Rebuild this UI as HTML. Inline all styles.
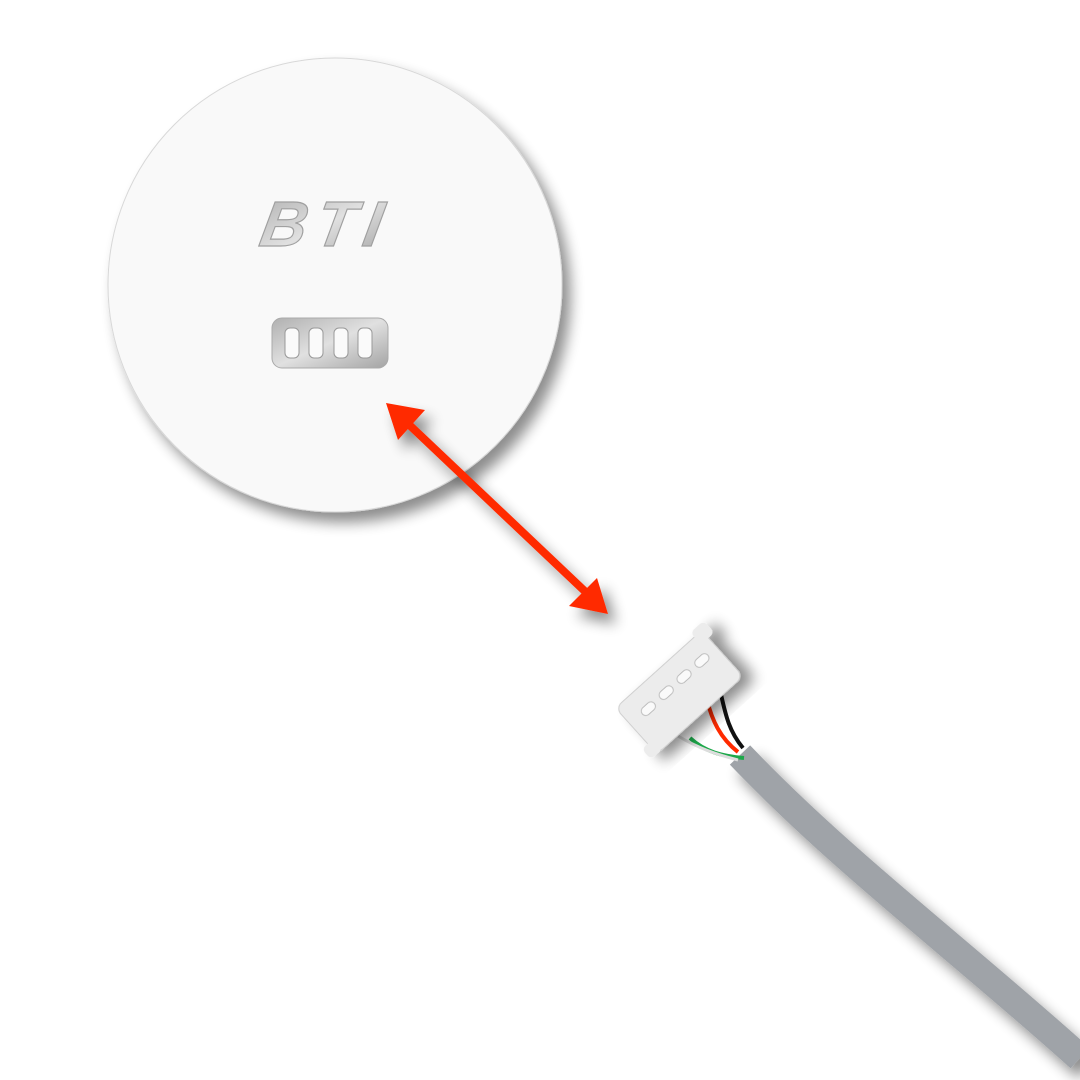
<!DOCTYPE html>
<html><head><style>html,body{margin:0;padding:0;background:#fff;width:1080px;height:1080px;overflow:hidden}</style></head>
<body>
<svg width="1080" height="1080" viewBox="0 0 1080 1080" xmlns="http://www.w3.org/2000/svg">
<defs>
<filter id="sh" x="-20%" y="-20%" width="150%" height="150%"><feGaussianBlur in="SourceAlpha" stdDeviation="7"/><feOffset dx="8" dy="10"/><feComponentTransfer><feFuncA type="linear" slope="0.45"/></feComponentTransfer><feMerge><feMergeNode/><feMergeNode in="SourceGraphic"/></feMerge></filter>
<linearGradient id="met" x1="0" y1="0" x2="1" y2="1"><stop offset="0" stop-color="#b0b0b0"/><stop offset="0.5" stop-color="#e0e0e0"/><stop offset="1" stop-color="#a4a4a4"/></linearGradient>
</defs>
<circle cx="335" cy="285" r="227" fill="#f9f9f9" stroke="#d8d8d8" stroke-width="1" filter="url(#sh)"/>
<text x="322" y="246" text-anchor="middle" font-family="Liberation Sans, sans-serif" font-weight="bold" font-style="italic" font-size="64" fill="url(#met)" stroke="#a0a0a0" stroke-width="1.2" letter-spacing="9" transform="skewX(-10) translate(44,0)">BTI</text>
<rect x="272" y="318" width="116" height="50" rx="10" fill="url(#met)" stroke="#aaa"/>
<g fill="#fafafa" stroke="#999">
<rect x="285" y="328" width="14" height="30" rx="5"/><rect x="309" y="328" width="14" height="30" rx="5"/><rect x="334" y="328" width="14" height="30" rx="5"/><rect x="358" y="328" width="14" height="30" rx="5"/></g>
<g filter="url(#sh)">
<line x1="402" y1="418" x2="592" y2="598" stroke="#ff2a00" stroke-width="8"/>
<polygon points="386,403 425,410 398,440" fill="#ff2a00"/>
<polygon points="608,614 569,606 597,578" fill="#ff2a00"/>
</g>
<path d="M740,755 C840,860 960,950 1080,1058" stroke="#9fa3a8" stroke-width="28" fill="none" filter="url(#sh)"/>
<path d="M690,738 C705,752 722,756 744,758" stroke="#1da84a" stroke-width="4" fill="none"/>
<path d="M678,736 C698,748 715,754 738,760" stroke="#ddd" stroke-width="3" fill="none"/>
<path d="M707,700 C712,720 720,738 738,752" stroke="#ff2a00" stroke-width="4" fill="none"/>
<path d="M720,690 C725,712 728,730 743,748" stroke="#111" stroke-width="4" fill="none"/>
<g transform="translate(680,693) rotate(-42)" filter="url(#sh)">
<rect x="-58" y="-32" width="116" height="62" rx="8" fill="#ececec" stroke="#cfcfcf"/>
<rect x="-66" y="16" width="16" height="14" rx="5" fill="#ececec"/>
<rect x="48" y="-38" width="18" height="16" rx="5" fill="#ececec"/>
<g fill="#fafafa" stroke="#bbb"><rect x="-42" y="-14" width="16" height="9" rx="4.5"/><rect x="-18" y="-14" width="16" height="9" rx="4.5"/><rect x="6" y="-14" width="16" height="9" rx="4.5"/><rect x="30" y="-14" width="16" height="9" rx="4.5"/></g>
</g>
</svg>
</body></html>
